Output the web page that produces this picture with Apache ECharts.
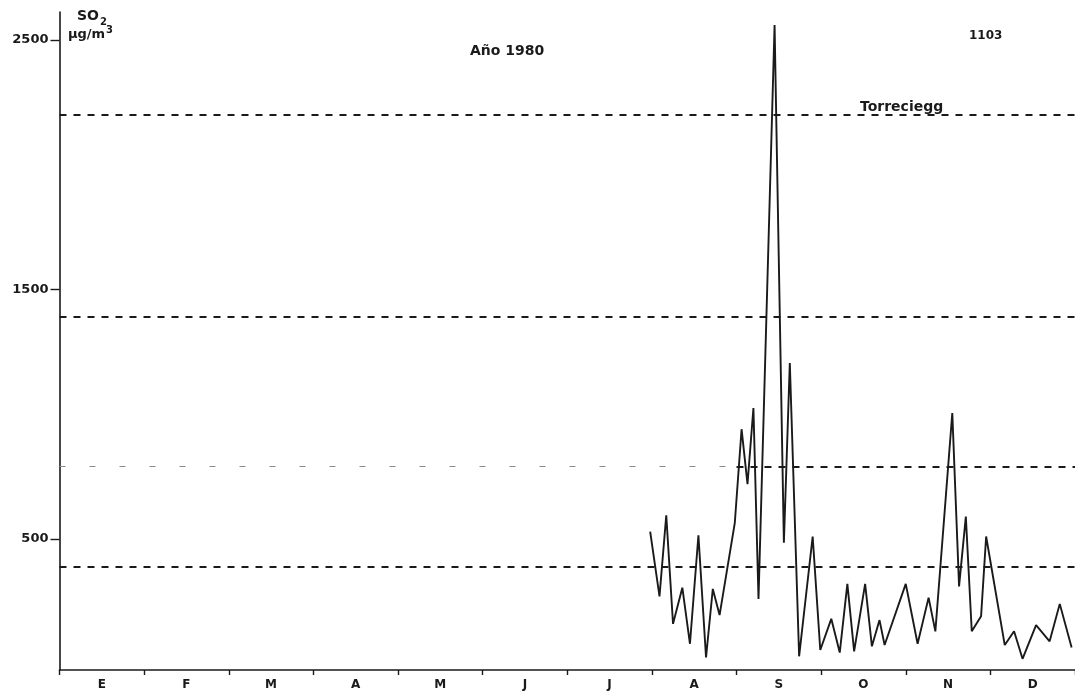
<!DOCTYPE html>
<html>
<head>
<meta charset="utf-8">
<title>SO2 1980 - Torreciegg</title>
<script src="https://cdn.jsdelivr.net/npm/echarts@6/dist/echarts.min.js"></script>
<style>
  html, body { margin: 0; padding: 0; background: #ffffff; }
  #chart { width: 1075px; height: 694px; }
</style>
</head>
<body>
<div id="chart"></div>
<script>
// Month initials along the x axis
const months = ['E', 'F', 'M', 'A', 'M', 'J', 'J', 'A', 'S', 'O', 'N', 'D'];

// Labelled y ticks (µg/m3)
const yTicks = [500, 1500, 2500];

// Sampling position of each reading, in months from 1 January
const sampleMonth = [
  6.98, 7.09, 7.17, 7.25, 7.36, 7.45, 7.55, 7.64, 7.72, 7.80,
  7.98, 8.06, 8.13, 8.20, 8.26, 8.45, 8.56, 8.63, 8.74, 8.90,
  8.99, 9.12, 9.22, 9.31, 9.39, 9.52, 9.60, 9.69, 9.75, 10.00,
  10.14, 10.27, 10.35, 10.55, 10.63, 10.71, 10.78, 10.89, 10.95, 11.17,
  11.28, 11.38, 11.54, 11.70, 11.82, 11.96
];

// SO2 concentration for each reading (µg/m3)
const so2 = [
  530, 270, 595, 160, 305, 80, 515, 25, 300, 195,
  565, 940, 720, 1025, 260, 2560, 485, 1205, 30, 510,
  55, 180, 45, 320, 50, 320, 70, 175, 75, 320,
  80, 265, 130, 1005, 310, 590, 130, 190, 510, 75,
  130, 20, 155, 90, 240, 65
];

// Reference levels drawn as dashed horizontals (µg/m3)
const refLevels = [2200, 1390, 790, 390];

const INK = '#1a1a1a';
const FONT = 'DejaVu Sans';

const chart = echarts.init(document.getElementById('chart'), null, { renderer: 'canvas' });

const points = sampleMonth.map((m, i) => [m, so2[i]]);

// The 790 level is faint up to August, then drawn bold
const lightUntil = 8.0;
const refLines = [];
refLevels.forEach(v => {
  if (v === 790) {
    refLines.push([
      { coord: [0, v], lineStyle: { color: '#8a8a8a', width: 1, type: [6, 24] } },
      { coord: [lightUntil, v] }
    ]);
    refLines.push([
      { coord: [lightUntil, v] },
      { coord: [12, v] }
    ]);
  } else {
    refLines.push([{ coord: [0, v] }, { coord: [12, v] }]);
  }
});

const option = {
  backgroundColor: '#ffffff',
  animation: false,
  grid: { left: 59.5, right: -3, top: 12, bottom: 24, containLabel: false },
  xAxis: [
    {
      type: 'category',
      data: months,
      boundaryGap: true,
      axisLine: { show: true, onZero: false, lineStyle: { color: INK, width: 1.6 } },
      axisTick: { show: true, length: 5, lineStyle: { color: INK, width: 1.4 } },
      axisLabel: {
        show: true, margin: 9, color: INK,
        fontFamily: FONT, fontWeight: 'bold', fontSize: 12
      },
      splitLine: { show: false }
    },
    {
      type: 'value',
      min: 0, max: 12,
      show: false,
      splitLine: { show: false }
    }
  ],
  yAxis: {
    type: 'value',
    min: -25, max: 2612,
    axisLine: { show: true, onZero: false, lineStyle: { color: INK, width: 1.6 } },
    axisTick: { show: true, length: 9, customValues: yTicks, lineStyle: { color: INK, width: 1.4 } },
    axisLabel: {
      show: true, customValues: yTicks, margin: 11, color: INK,
      fontFamily: FONT, fontWeight: 'bold', fontSize: 13,
      formatter: v => String(v)
    },
    splitLine: { show: false }
  },
  series: [
    {
      type: 'line',
      name: 'niveles',
      xAxisIndex: 1,
      data: [],
      silent: true,
      markLine: {
        silent: true,
        symbol: ['none', 'none'],
        label: { show: false },
        lineStyle: { color: INK, width: 2, type: [7, 7] },
        data: refLines
      }
    },
    {
      type: 'line',
      name: 'SO2',
      xAxisIndex: 1,
      data: points,
      symbol: 'none',
      lineStyle: { color: INK, width: 1.9 },
      z: 5
    }
  ],
  graphic: [
    { type: 'text', left: 77, top: 9,
      style: { text: 'SO', font: 'bold 14px "DejaVu Sans"', fill: INK } },
    { type: 'text', left: 100, top: 17,
      style: { text: '2', font: 'bold 10px "DejaVu Sans"', fill: INK } },
    { type: 'text', left: 68, top: 28,
      style: { text: 'µg/m', font: 'bold 13px "DejaVu Sans"', fill: INK } },
    { type: 'text', left: 106, top: 25,
      style: { text: '3', font: 'bold 10px "DejaVu Sans"', fill: INK } },
    { type: 'text', left: 470, top: 44,
      style: { text: 'Año 1980', font: 'bold 14px "DejaVu Sans"', fill: INK } },
    { type: 'text', left: 969, top: 30,
      style: { text: '1103', font: 'bold 12px "DejaVu Sans"', fill: INK } },
    { type: 'text', left: 860, top: 100,
      style: { text: 'Torreciegg', font: 'bold 14px "DejaVu Sans"', fill: INK } }
  ]
};

chart.setOption(option);
</script>
</body>
</html>
